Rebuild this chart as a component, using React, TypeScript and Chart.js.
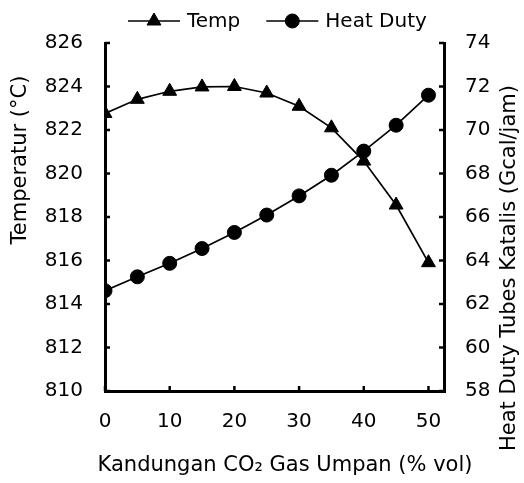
import React, { useEffect, useRef } from "react";
import { Chart, registerables } from "chart.js";

Chart.register(...registerables);

// ---- data ----
const co2Content = [0, 5, 10, 15, 20, 25, 30, 35, 40, 45, 50];
const tempValues = [822.76, 823.41, 823.78, 823.98, 824.0, 823.7, 823.09, 822.1, 820.57, 818.55, 815.9];
const heatDutyValues = [62.61, 63.25, 63.87, 64.55, 65.29, 66.09, 66.97, 67.92, 69.03, 70.22, 71.6];
const xTickValues = [0, 10, 20, 30, 40, 50];
const tempTickValues = [810, 812, 814, 816, 818, 820, 822, 824, 826];
const dutyTickValues = [58, 60, 62, 64, 66, 68, 70, 72, 74];

const seriesNames = ["Temp", "Heat Duty"];
const xTitle = "Kandungan CO\u2082 Gas Umpan (% vol)";
const leftTitle = "Temperatur (\u00B0C)";
const rightTitle = "Heat Duty Tubes Katalis (Gcal/jam)";

const FONT_FAMILY = "'DejaVu Sans', Verdana, sans-serif";
const FONT_SIZE = 20;
const TITLE_SIZE = 21;

function drawMarker(ctx: CanvasRenderingContext2D, style: string, x: number, y: number, r: number) {
  ctx.beginPath();
  if (style === "circle") {
    ctx.arc(x, y, r, 0, Math.PI * 2);
  } else {
    const a = -Math.PI / 2;
    for (let k = 0; k < 3; k++) {
      const ang = a + (k * 2 * Math.PI) / 3;
      const px = x + Math.cos(ang) * r;
      const py = y + Math.sin(ang) * r;
      if (k === 0) ctx.moveTo(px, py);
      else ctx.lineTo(px, py);
    }
    ctx.closePath();
  }
  ctx.fillStyle = "#000";
  ctx.fill();
  ctx.stroke();
}

const inwardTicks = {
  id: "inwardTicks",
  afterDraw(chart: any) {
    const ctx = chart.ctx;
    const { left, right, bottom } = chart.chartArea;
    const len = 5;
    ctx.save();
    ctx.strokeStyle = "#000";
    ctx.lineWidth = 2.5;
    const xs = chart.scales.x;
    xs.ticks.forEach((t: any) => {
      const px = xs.getPixelForValue(t.value);
      ctx.beginPath();
      ctx.moveTo(px, bottom);
      ctx.lineTo(px, bottom - len);
      ctx.stroke();
    });
    const ys = chart.scales.y;
    ys.ticks.forEach((t: any) => {
      const py = ys.getPixelForValue(t.value);
      ctx.beginPath();
      ctx.moveTo(left, py);
      ctx.lineTo(left + len, py);
      ctx.stroke();
    });
    const y1 = chart.scales.y1;
    y1.ticks.forEach((t: any) => {
      const py = y1.getPixelForValue(t.value);
      ctx.beginPath();
      ctx.moveTo(right, py);
      ctx.lineTo(right - len, py);
      ctx.stroke();
    });
    ctx.restore();
  },
};

const customLegendAndTitles = {
  id: "customLegendAndTitles",
  afterDraw(chart: any) {
    const ctx = chart.ctx;
    ctx.save();
    ctx.fillStyle = "#000";
    ctx.strokeStyle = "#000";
    ctx.textAlign = "center";
    ctx.textBaseline = "middle";
    ctx.font = `${TITLE_SIZE}px ${FONT_FAMILY}`;

    // x axis title
    ctx.fillText(xTitle, 285, 466);

    // left axis title (bottom-to-top)
    ctx.save();
    ctx.translate(21, 160);
    ctx.rotate(-Math.PI / 2);
    ctx.fillText(leftTitle, 0, 0);
    ctx.restore();

    // right axis title (bottom-to-top)
    ctx.save();
    ctx.translate(510, 268);
    ctx.rotate(-Math.PI / 2);
    ctx.fillText(rightTitle, 0, 0);
    ctx.restore();

    // legend
    ctx.font = `${FONT_SIZE}px ${FONT_FAMILY}`;
    const lineLen = 52;
    const gapText = 7;
    const gapItems = 26;
    const widths = seriesNames.map((n) => ctx.measureText(n).width);
    let x = 128;
    const y = 21;
    const styles = ["triangle", "circle"];
    const radii = [8, 7];
    seriesNames.forEach((name, i) => {
      ctx.lineWidth = 1.5;
      ctx.beginPath();
      ctx.moveTo(x, y);
      ctx.lineTo(x + lineLen, y);
      ctx.stroke();
      ctx.lineWidth = 1;
      drawMarker(ctx, styles[i], x + lineLen / 2, y, radii[i]);
      ctx.textAlign = "left";
      ctx.textBaseline = "middle";
      ctx.fillStyle = "#000";
      ctx.fillText(name, x + lineLen + gapText, y + 1);
      x += lineLen + gapText + widths[i] + gapItems;
    });
    ctx.restore();
  },
};

export default function App() {
  const ref = useRef<HTMLCanvasElement | null>(null);

  useEffect(() => {
    document.body.style.margin = "0";
    const canvas = ref.current;
    if (!canvas) return;
    const font = { family: FONT_FAMILY, size: FONT_SIZE };
    const chart = new Chart(canvas, {
      type: "line",
      data: {
        datasets: [
          {
            label: seriesNames[0],
            data: co2Content.map((x, i) => ({ x, y: tempValues[i] })),
            yAxisID: "y",
            borderColor: "#000",
            backgroundColor: "#000",
            borderWidth: 1.7,
            pointStyle: "triangle",
            pointRadius: 8,
            pointBorderWidth: 1,
            tension: 0,
          },
          {
            label: seriesNames[1],
            data: co2Content.map((x, i) => ({ x, y: heatDutyValues[i] })),
            yAxisID: "y1",
            borderColor: "#000",
            backgroundColor: "#000",
            borderWidth: 1.7,
            pointStyle: "circle",
            pointRadius: 7,
            pointBorderWidth: 1,
            tension: 0,
          },
        ],
      },
      options: {
        responsive: false,
        animation: false,
        devicePixelRatio: 1,
        layout: { padding: { top: 43, left: 0, right: 0, bottom: 0 } },
        plugins: { legend: { display: false }, tooltip: { enabled: false } },
        scales: {
          x: {
            type: "linear",
            min: 0,
            max: 52.4,
            afterBuildTicks: (s: any) => {
              s.ticks = xTickValues.map((v) => ({ value: v }));
            },
            afterFit: (s: any) => {
              s.height = 92;
            },
            grid: { display: true, drawOnChartArea: false, drawTicks: false, lineWidth: 3, color: "#000" },
            border: { display: true, width: 3, color: "#000" },
            ticks: { color: "#000", font, padding: 19, maxRotation: 0 },
            title: { display: false },
          },
          y: {
            type: "linear",
            position: "left",
            min: 810,
            max: 826,
            afterBuildTicks: (s: any) => {
              s.ticks = tempTickValues.map((v) => ({ value: v }));
            },
            afterFit: (s: any) => {
              s.width = 105;
            },
            grid: { display: true, drawOnChartArea: false, drawTicks: false, lineWidth: 3, color: "#000" },
            border: { display: true, width: 3, color: "#000" },
            ticks: { color: "#000", font, padding: 22 },
            title: { display: false },
          },
          y1: {
            type: "linear",
            position: "right",
            min: 58,
            max: 74,
            afterBuildTicks: (s: any) => {
              s.ticks = dutyTickValues.map((v) => ({ value: v }));
            },
            afterFit: (s: any) => {
              s.width = 80;
            },
            grid: { display: true, drawOnChartArea: false, drawTicks: false, lineWidth: 3, color: "#000" },
            border: { display: true, width: 3, color: "#000" },
            ticks: { color: "#000", font, padding: 21 },
            title: { display: false },
          },
        },
      },
      plugins: [inwardTicks, customLegendAndTitles],
    } as any);
    return () => chart.destroy();
  }, []);

  return (
    <div style={{ position: "absolute", left: 0, top: 0, width: 524, height: 483 }}>
      <canvas ref={ref} width={524} height={483} />
    </div>
  );
}
